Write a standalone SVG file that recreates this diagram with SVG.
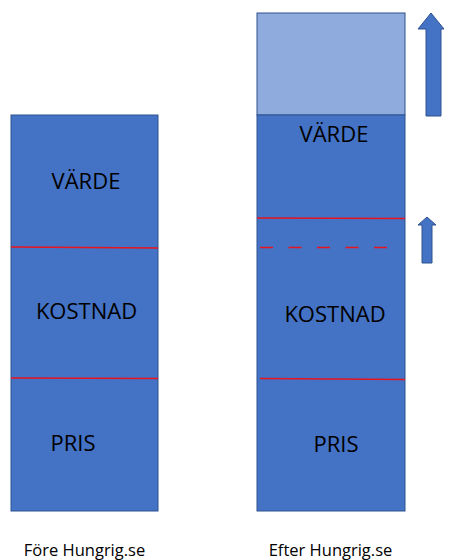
<svg xmlns="http://www.w3.org/2000/svg" width="449" height="560" viewBox="0 0 449 560">
<style>
.box{fill:#4472C4;stroke:#2F528F;stroke-width:1}
.light{fill:#8FAADC;stroke:#2F528F;stroke-width:1}
.red{stroke:#E8141E;stroke-width:1.6;fill:none}
.dash{stroke:#E8141E;stroke-width:1.6;fill:none;stroke-dasharray:13 15.5}
.lbl{font-family:"Open Sans","Liberation Sans",sans-serif;font-size:22px;fill:#000;text-anchor:middle}
.cap{font-family:"Open Sans","Liberation Sans",sans-serif;font-size:16.5px;fill:#000;text-anchor:middle}
.arrow{fill:#4472C4;stroke:#2F528F;stroke-width:1}
</style>
<rect width="449" height="560" fill="#fff"/>
<g id="fore">
<rect class="box" x="11" y="115" width="147" height="396"/>
<line class="red" x1="11" y1="247" x2="158" y2="248"/>
<line class="red" x1="11" y1="378" x2="158" y2="378.5"/>
<text class="lbl" x="86" y="189">VÄRDE</text>
<text class="lbl" x="86.5" y="319">KOSTNAD</text>
<text class="lbl" x="73" y="451">PRIS</text>
<text class="cap" x="84.5" y="556">Före Hungrig.se</text>
</g>
<g id="efter">
<rect class="light" x="257" y="13" width="148" height="102"/>
<rect class="box" x="257" y="115" width="148" height="396"/>
<line class="red" x1="257" y1="218" x2="405" y2="218.5"/>
<line class="dash" x1="260" y1="247.5" x2="390" y2="247.5"/>
<line class="red" x1="260" y1="378.5" x2="405" y2="379.5"/>
<text class="lbl" x="334" y="142">VÄRDE</text>
<text class="lbl" x="335" y="322">KOSTNAD</text>
<text class="lbl" x="336" y="452">PRIS</text>
<text class="cap" x="330.5" y="556">Efter Hungrig.se</text>
</g>
<g id="arrows">
<polygon class="arrow" points="431,13 444,29 441,29 441,116 426,116 426,29 418,29"/>
<polygon class="arrow" points="427,217 436,225 432,225 432,263 422,263 422,225 418,225"/>
</g>
</svg>
